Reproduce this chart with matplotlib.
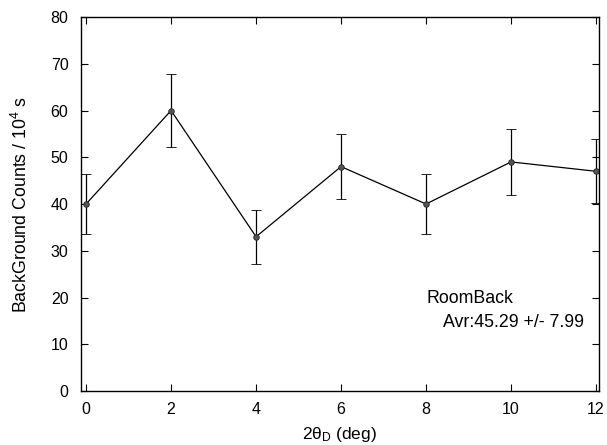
import matplotlib
matplotlib.use("Agg")
import matplotlib.pyplot as plt

angles = [0, 2, 4, 6, 8, 10, 12]
counts = [40, 60, 33, 48, 40, 49, 47]
errors = [6.32, 7.75, 5.74, 6.93, 6.32, 7.0, 6.86]
xticks = [0, 2, 4, 6, 8, 10, 12]
yticks = [0, 10, 20, 30, 40, 50, 60, 70, 80]

plt.rcParams['font.family'] = ['Liberation Sans', 'DejaVu Sans']
plt.rcParams['mathtext.fontset'] = 'custom'
plt.rcParams['mathtext.rm'] = 'Liberation Sans'
plt.rcParams['mathtext.it'] = 'Liberation Sans:italic'

fig = plt.figure(figsize=(6.07, 4.45), dpi=100)
ax = fig.add_axes([0.1334, 0.1213, 0.8534, 0.8405])

ax.errorbar(angles, counts, yerr=errors, color='black', lw=0.9,
            elinewidth=0.9, capsize=3.5, capthick=0.9,
            marker='o', markersize=4, markerfacecolor='#555555',
            markeredgecolor='#222222', markeredgewidth=0.6)

ax.set_xlim(-0.12, 12.07)
ax.set_ylim(0, 80)
ax.set_xticks(xticks)
ax.set_yticks(yticks)
ax.tick_params(direction='in', length=5, width=0.8, top=True, right=True,
               labelsize=11.5, colors='black')
ax.tick_params(axis='x', pad=8)
ax.tick_params(axis='y', pad=9)
for s in ax.spines.values():
    s.set_linewidth(1.0)

ax.set_xlabel('2θ$_{\\mathrm{D}}$ (deg)', fontsize=12.5, labelpad=6)
ax.set_ylabel('BackGround Counts / 10$^{4}$ s', fontsize=12.8, labelpad=14)

ax.text(8.0, 19.8, 'RoomBack', fontsize=12.8, va='center', ha='left')
ax.text(8.4, 14.7, 'Avr:45.29 +/- 7.99', fontsize=12.8, va='center', ha='left')

fig.savefig('out.png', dpi=100)
